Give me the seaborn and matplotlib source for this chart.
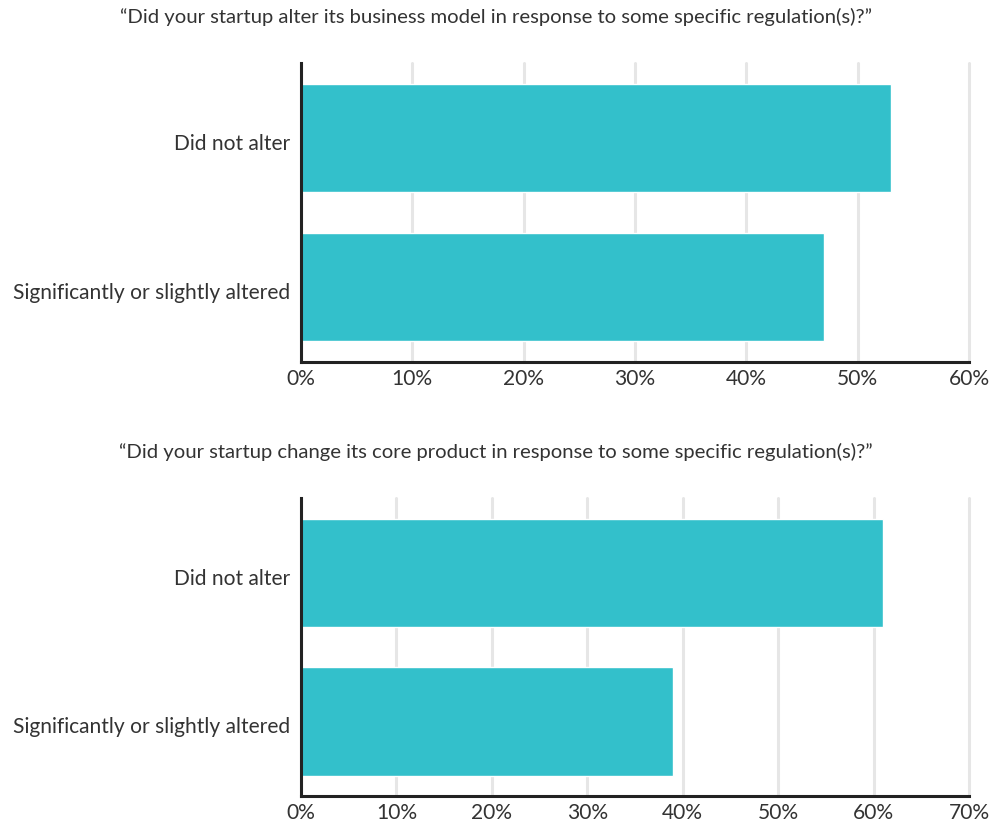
import matplotlib
matplotlib.use("Agg")
import matplotlib.pyplot as plt
import matplotlib.transforms as mtransforms
import seaborn as sns
import pandas as pd
from matplotlib.ticker import PercentFormatter

# Survey answers (share of respondents, %)
categories = ["Did not alter", "Significantly or slightly altered"]
business_model = [53, 47]
core_product = [61, 39]

title_business = "\u201cDid your startup alter its business model in response to some specific regulation(s)?\u201d"
title_product = "\u201cDid your startup change its core product in response to some specific regulation(s)?\u201d"

sns.set_theme(style="white")
plt.rcParams["font.family"] = ["Lato", "DejaVu Sans"]

bar_color = "#33c0cb"
spine_color = "#222222"
grid_color = "#e6e6e6"
text_color = "#333333"

fig = plt.figure(figsize=(9.92, 8.27), dpi=100)
ax_top = fig.add_axes([0.3034, 0.5623, 0.6734, 0.3615])
ax_bot = fig.add_axes([0.3034, 0.0375, 0.6734, 0.3603])

panels = [
    (ax_top, business_model, 60, title_business, 0.979),
    (ax_bot, core_product, 70, title_product, 0.453),
]

# nudge category labels slightly below bar centres
label_shift = mtransforms.ScaledTranslation(0, -4 / 100, fig.dpi_scale_trans)

for ax, values, xmax, title, ty in panels:
    df = pd.DataFrame({"answer": categories, "share": values})
    sns.barplot(data=df, x="share", y="answer", orient="h", color=bar_color,
                saturation=1, width=0.725, ax=ax, zorder=3)
    ax.set_xlim(0, xmax)
    ax.set_ylim(1.5, -0.5)
    ax.set_xticks(range(0, xmax + 1, 10))
    ax.xaxis.set_major_formatter(PercentFormatter(decimals=0))
    ax.grid(axis="x", color=grid_color, linewidth=2.2, zorder=0)
    ax.set_axisbelow(True)
    for gl in ax.get_xgridlines():
        gl.set_clip_on(False)
    ax.set_xlabel("")
    ax.set_ylabel("")
    for side in ("top", "right"):
        ax.spines[side].set_visible(False)
    for side in ("left", "bottom"):
        ax.spines[side].set_color(spine_color)
        ax.spines[side].set_linewidth(2.2)
        ax.spines[side].set_zorder(4)
    ax.tick_params(axis="both", length=0, labelsize=15.1, labelcolor=text_color)
    ax.tick_params(axis="x", pad=5)
    ax.tick_params(axis="y", pad=8)
    for lbl in ax.get_yticklabels():
        lbl.set_transform(lbl.get_transform() + label_shift)
    fig.text(0.5, ty, title, ha="center", va="center", fontsize=14.6,
             color=text_color)

fig.savefig("out.png", dpi=100, facecolor="white")
